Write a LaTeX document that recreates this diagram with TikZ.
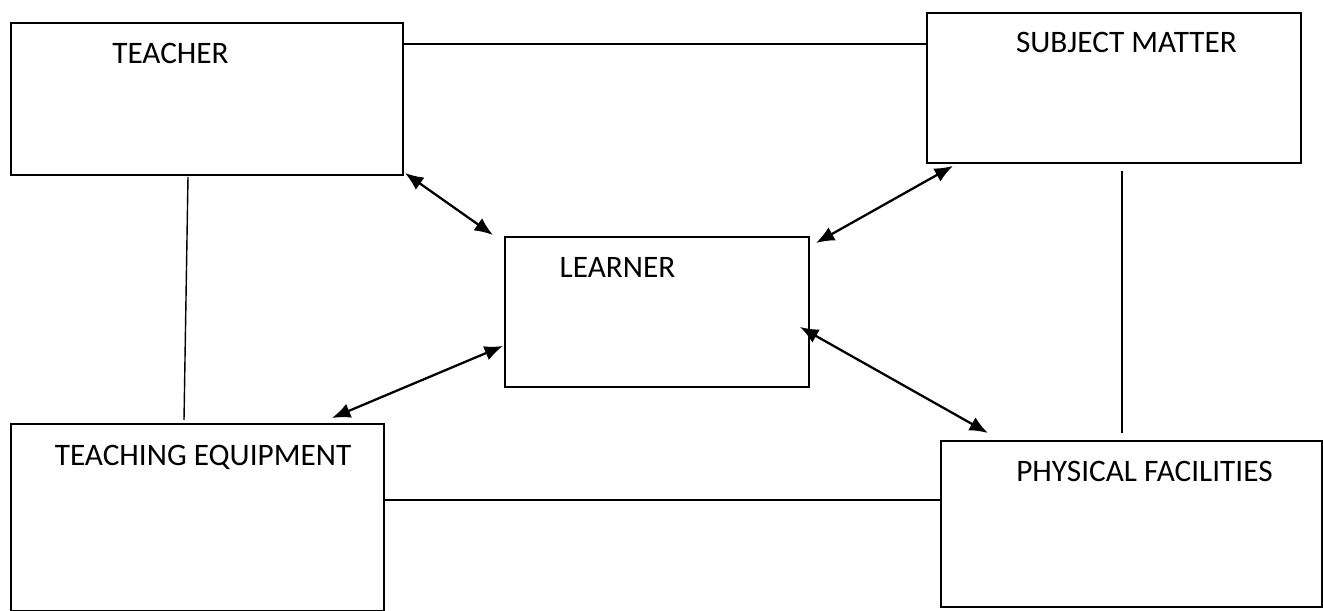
\documentclass[tikz,border=0pt]{standalone}
\usepackage{fontspec}
\setmainfont{Carlito}
\usetikzlibrary{arrows.meta,calc}
\begin{document}
\begin{tikzpicture}[x=0.02cm,y=-0.02cm,
  box/.style={draw=black,line width=1.1pt,rectangle,inner sep=0pt,anchor=north west},
  lbl/.style={inner sep=0pt,anchor=base,font=\fontsize{17.8}{21}\selectfont},
  conn/.style={draw=black,line width=0.8pt},
  biarrow/.style={draw=black,line width=1.3pt,{Latex[length=10.5pt,width=8.5pt]}-{Latex[length=10.5pt,width=8.5pt]}}]
\useasboundingbox (0,0) rectangle (1323,611);
% boxes
\node[box,minimum width=392*0.02cm,minimum height=152*0.02cm] (teacher) at (10,22) {};
\node[box,minimum width=374*0.02cm,minimum height=150*0.02cm] (subject) at (926,12) {};
\node[box,minimum width=304*0.02cm,minimum height=150*0.02cm] (learner) at (504,236) {};
\node[box,minimum width=373*0.02cm,minimum height=187*0.02cm] (equip) at (10,423) {};
\node[box,minimum width=381*0.02cm,minimum height=166*0.02cm] (phys) at (940,440) {};
% labels
\node[lbl] (tteacher) at (170.5,64) {TEACHER};
\node[lbl] (tsubject) at (1126.5,53) {SUBJECT MATTER};
\node[lbl] (tlearner) at (617.5,278) {LEARNER};
\node[lbl] (tequip) at (203,465) {TEACHING EQUIPMENT};
\node[lbl] (tphys) at (1144.5,481) {PHYSICAL FACILITIES};
% plain connectors
\draw[conn] ($(teacher.north east)+(0,22)$) -- ($(subject.north west)+(0,32)$);
\draw[conn] ($(teacher.south west)+(178,1)$) -- ($(equip.north west)+(174,-3)$);
\draw[conn] ($(subject.south west)+(196,7)$) -- ($(phys.north west)+(182,-7)$);
\draw[conn] ($(equip.north east)+(-2,77)$) -- ($(phys.north west)+(0,60)$);
% double arrows
\draw[biarrow] ($(teacher.south east)+(1,-3)$) -- ($(learner.north west)+(-11,-1)$);
\draw[biarrow] ($(subject.south west)+(27,2)$) -- ($(learner.north east)+(6,7)$);
\draw[biarrow] ($(learner.south west)+(-1,-42)$) -- ($(equip.north east)+(-53,-5)$);
\draw[biarrow] ($(learner.south east)+(-10,-61)$) -- ($(phys.north west)+(48,-7)$);
\end{tikzpicture}
\end{document}
